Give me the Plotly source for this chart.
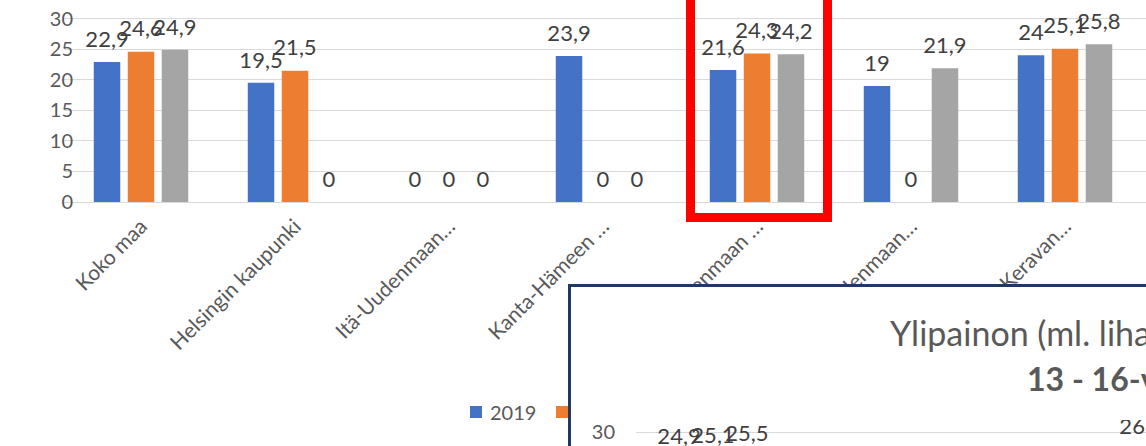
import plotly.graph_objects as go

# ---- data -------------------------------------------------------------
categories = [
    "Koko maa",
    "Helsingin kaupunki",
    "Itä-Uudenmaan…",
    "Kanta-Hämeen …",
    "Keski-Uudenmaan …",
    "Länsi-Uudenmaan…",
    "Keravan…",
]
years = ["2019", "2020", "2021"]
values_2019 = [22.9, 19.5, 0, 23.9, 21.6, 19, 24]
values_2020 = [24.6, 21.5, 0, 0, 24.3, 0, 25.1]
values_2021 = [24.9, 0, 0, 0, 24.2, 21.9, 25.8]

# second chart (13 - 16-year-olds), only its top edge is in view
teen_categories = ["Koko maa", "Helsingin kaupunki", "Itä-Uudenmaan…", "Kanta-Hämeen …"]
teen_2019 = [24.9, None, None, 26.5]
teen_2020 = [25.1, None, None, None]
teen_2021 = [25.5, None, None, None]

colors = ["#4472C4", "#ED7D31", "#A5A5A5"]

# ---- geometry (pixels) ------------------------------------------------
W, H = 1146, 446
FONT = "Lato, 'Open Sans', sans-serif"
TICK_GREY = "#595959"
LABEL_GREY = "#404040"
GRID = "#D9D9D9"
NAVY = "#1F3864"

BAND = 154             # px per category
MAIN_LEFT = 64         # left edge of main plot area
MAIN_ZERO = 202        # y pixel of the 0 line
MAIN_UNIT = 6.11       # px per percentage point
MAIN_LIFT = 3.9        # label centre above bar top (data units)

BOX_LEFT, BOX_TOP = 571, 287
TEEN_LEFT, TEEN_TOP, TEEN_30 = 636, 420, 432
TEEN_LIFT = 4.5


def fx(p):
    return p / W


def fy(p):
    return 1 - p / H


def fmt(v):
    return "" if v is None else f"{v:g}".replace(".", ",")


def add_series(fig, cats, series, xa, ya, lift):
    for year, vals, col in zip(years, series, colors):
        fig.add_trace(go.Bar(
            x=cats, y=vals, name=year, marker=dict(color=col, line=dict(width=0)),
            offsetgroup=year, xaxis=xa, yaxis=ya, hoverinfo="skip", showlegend=False,
        ))
        # transparent carrier bar sitting on top of each bar; its centre holds the value label
        fig.add_trace(go.Bar(
            x=cats, y=[None if v is None else 2 * lift for v in vals], base=vals,
            marker=dict(color="rgba(0,0,0,0)", line=dict(width=0)),
            text=[fmt(v) for v in vals], textposition="inside", insidetextanchor="middle",
            textangle=0, constraintext="none",
            textfont=dict(family=FONT, size=22, color=LABEL_GREY),
            offsetgroup=year, xaxis=xa, yaxis=ya, hoverinfo="skip", showlegend=False,
        ))


fig = go.Figure()

# main chart
add_series(fig, categories, [values_2019, values_2020, values_2021], "x", "y", MAIN_LIFT)

# framed panel of the second chart (drawn above the main chart)
fig.add_trace(go.Scatter(x=[], y=[], xaxis="x2", yaxis="y2", hoverinfo="skip", showlegend=False))

# second chart
add_series(fig, teen_categories, [teen_2019, teen_2020, teen_2021], "x3", "y3", TEEN_LIFT)

fig.update_layout(
    width=W, height=H, autosize=False,
    margin=dict(l=0, r=0, t=0, b=0),
    paper_bgcolor="white", plot_bgcolor="white",
    font=dict(family=FONT, color=TICK_GREY),
    barmode="group", bargap=0.338, bargroupgap=0.22,
    showlegend=False,
    xaxis=dict(
        domain=[fx(MAIN_LEFT), 1], type="category",
        range=[-0.5, -0.5 + (W - MAIN_LEFT) / BAND],
        anchor="free", position=fy(MAIN_ZERO),
        tickangle=-45, tickfont=dict(size=21, color=TICK_GREY),
        showgrid=False, showline=False, ticks="",
        ticklabelstandoff=7, ticklabelshift=0,
        fixedrange=True,
    ),
    yaxis=dict(
        domain=[0, 1], anchor="x",
        range=[-(H - MAIN_ZERO) / MAIN_UNIT, MAIN_ZERO / MAIN_UNIT],
        tickvals=[0, 5, 10, 15, 20, 25, 30],
        tickfont=dict(size=20, color=TICK_GREY),
        showgrid=True, gridcolor=GRID, gridwidth=1,
        zeroline=True, zerolinecolor=GRID, zerolinewidth=1,
        showline=False, ticks="", ticklabelstandoff=-10, fixedrange=True,
    ),
    xaxis2=dict(
        domain=[fx(BOX_LEFT), 1], anchor="y2", side="top", range=[0, 1],
        showline=True, linecolor=NAVY, linewidth=3,
        showgrid=False, zeroline=False, showticklabels=False, ticks="", fixedrange=True,
    ),
    yaxis2=dict(
        domain=[0, fy(BOX_TOP)], anchor="x2", side="left", range=[0, 1],
        showline=True, linecolor=NAVY, linewidth=3,
        showgrid=False, zeroline=False, showticklabels=False, ticks="", fixedrange=True,
    ),
    xaxis3=dict(
        domain=[fx(TEEN_LEFT), 1], anchor="y3", type="category",
        range=[-0.5, -0.5 + (W - TEEN_LEFT) / BAND],
        showticklabels=False, showgrid=False, showline=False, ticks="", fixedrange=True,
    ),
    yaxis3=dict(
        domain=[0, fy(TEEN_TOP)], anchor="x3",
        range=[30 - (H - TEEN_30) / MAIN_UNIT, 30 + (TEEN_30 - TEEN_TOP) / MAIN_UNIT],
        tickvals=[30], tickfont=dict(size=20, color=TICK_GREY),
        showgrid=True, gridcolor=GRID, gridwidth=1, zeroline=False,
        showline=False, ticks="", ticklabelstandoff=20, fixedrange=True,
    ),
)

shapes = []
# legend of the main chart, drawn underneath the framed panel
for i, (year, col) in enumerate(zip(years, colors)):
    x0 = 470 + 86 * i
    shapes.append(dict(
        type="rect", xref="paper", yref="paper", layer="below",
        x0=fx(x0), x1=fx(x0 + 12), y0=fy(418), y1=fy(406),
        fillcolor=col, line=dict(width=0),
    ))
    shapes.append(dict(
        type="rect", xref="paper", yref="paper", layer="below",
        x0=fx(x0 + 17), x1=fx(x0 + 80), y0=fy(424), y1=fy(400),
        fillcolor="rgba(0,0,0,0)", line=dict(width=0),
        label=dict(text=year, textposition="middle left", padding=0,
                   font=dict(family=FONT, size=20, color=TICK_GREY)),
    ))
# red highlight frame
shapes.append(dict(
    type="rect", xref="paper", yref="paper", layer="above",
    x0=fx(690.5), x1=fx(827.5), y0=fy(217.5), y1=fy(-10),
    fillcolor="rgba(0,0,0,0)", line=dict(color="#FF0000", width=9),
))
fig.update_layout(shapes=shapes)

fig.update_layout(annotations=[
    dict(text="Ylipainon (ml. lihavuus) yleisyys, %", xref="paper", yref="paper",
         x=fx(888), y=fy(332), xanchor="left", yanchor="middle", showarrow=False,
         font=dict(family=FONT, size=34, color=TICK_GREY)),
    dict(text="<b>13 - 16-vuotiaat</b>", xref="paper", yref="paper",
         x=fx(1025), y=fy(378), xanchor="left", yanchor="middle", showarrow=False,
         font=dict(family=FONT, size=32, color=TICK_GREY)),
])

fig.write_html("out.html")
